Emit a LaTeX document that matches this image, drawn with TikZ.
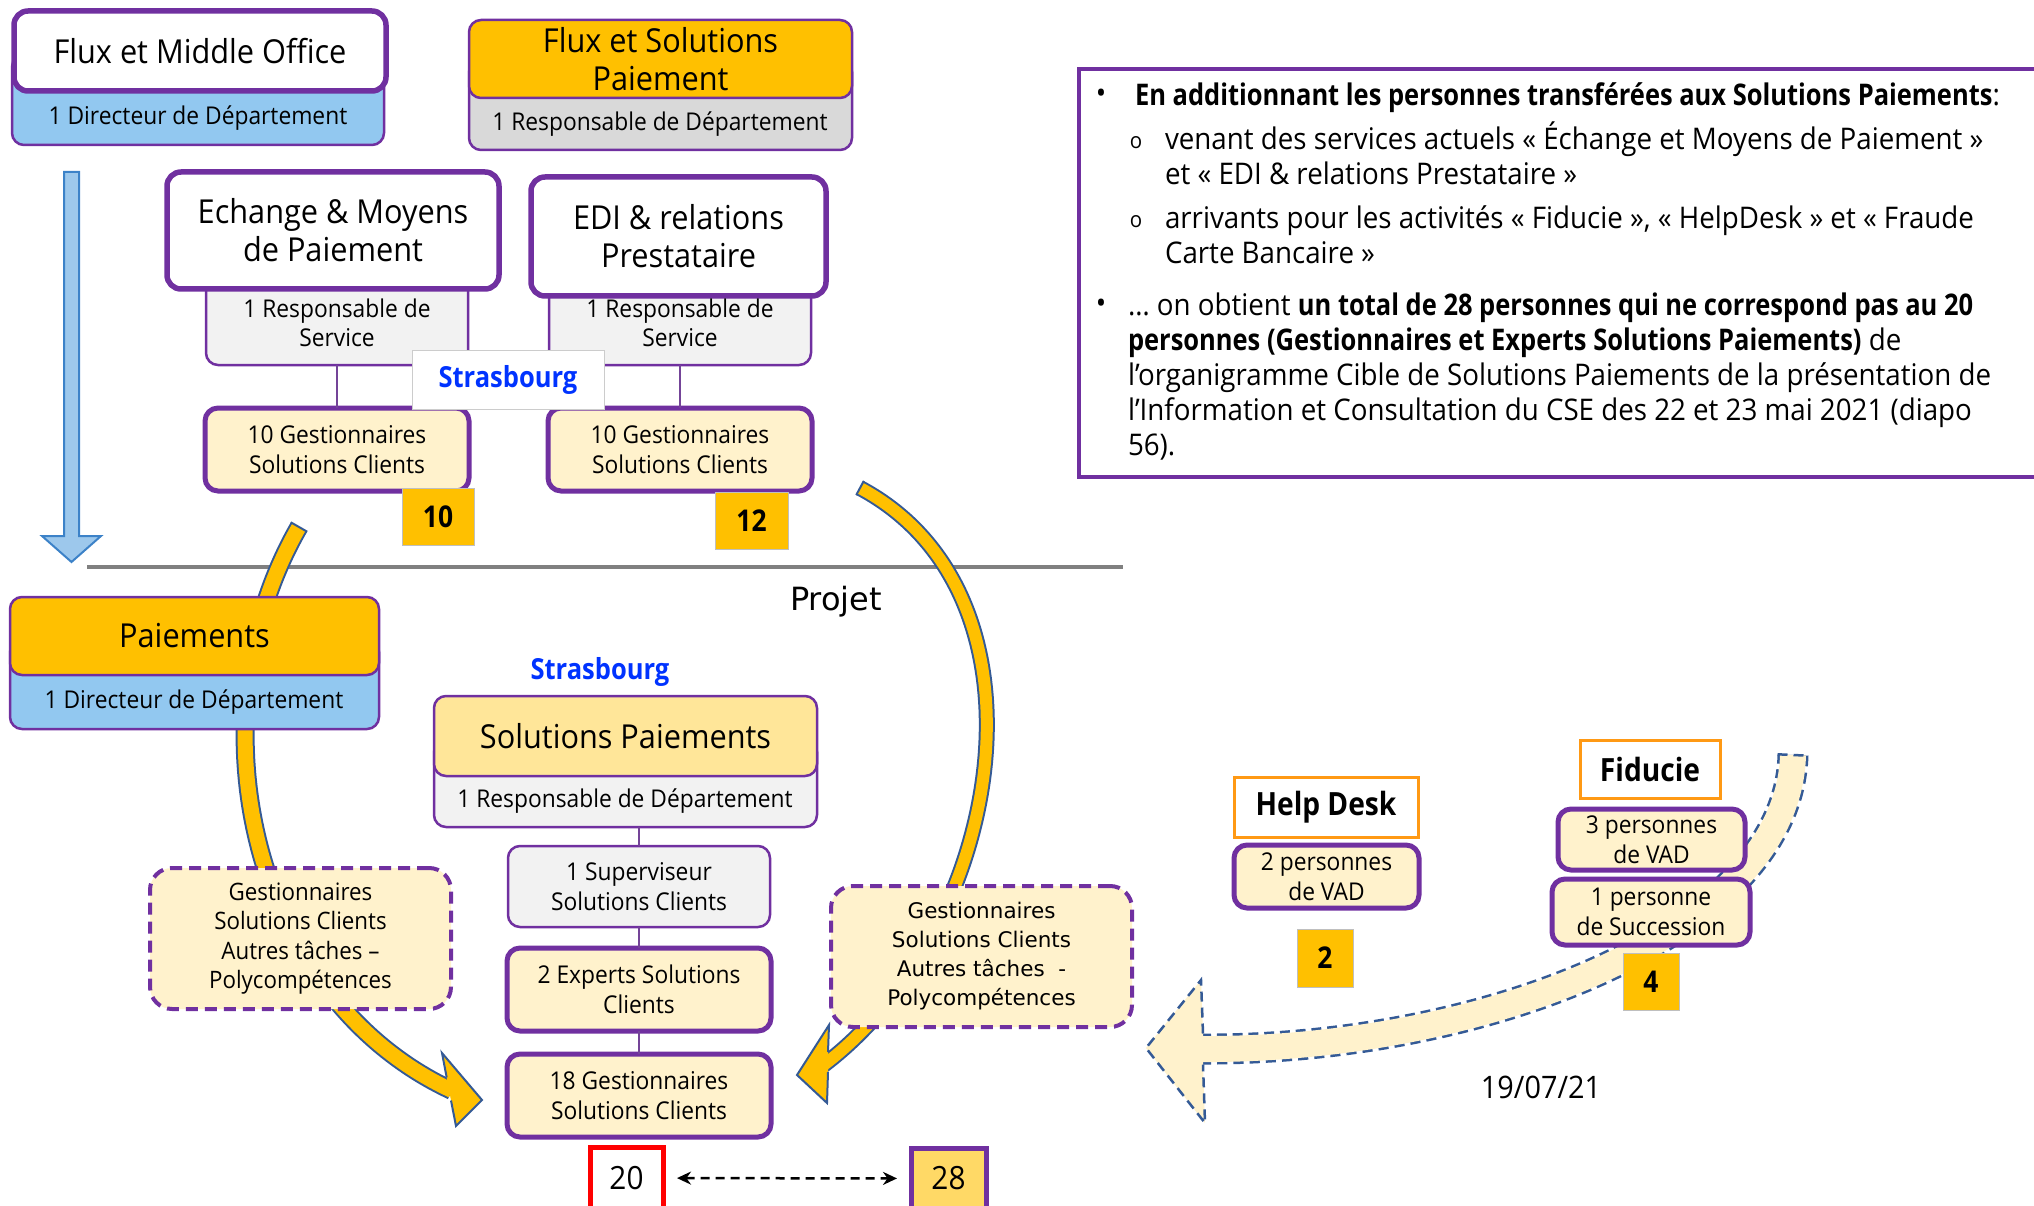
\documentclass[tikz,border=0pt]{standalone}
\usepackage{fontspec}
\setmainfont{Open Sans}[FakeStretch=0.93]
\newfontfamily\semib{Open Sans}[FakeStretch=0.88]
\newfontfamily\notebold{Open Sans}[FakeStretch=0.855]
\newfontfamily\verd{DejaVu Sans}
\usetikzlibrary{arrows.meta}

\definecolor{purp}{RGB}{112,48,160}
\definecolor{gold}{RGB}{255,192,0}
\definecolor{skyb}{RGB}{146,200,240}
\definecolor{greyA}{RGB}{217,217,217}
\definecolor{greyB}{RGB}{242,242,242}
\definecolor{cream}{RGB}{255,242,204}
\definecolor{sand}{RGB}{255,230,153}
\definecolor{sandB}{RGB}{255,217,102}
\definecolor{cityblue}{RGB}{0,51,255}
\definecolor{arrowline}{RGB}{52,90,150}
\definecolor{orangeline}{RGB}{255,153,20}
\definecolor{rulegrey}{RGB}{128,128,128}
\definecolor{arrowblue}{RGB}{157,200,236}
\definecolor{arrowblueline}{RGB}{60,130,200}

\newcommand\ftitle{\fontsize{33}{38}\selectfont}
\newcommand\fbody{\fontsize{24.5}{29.5}\selectfont}
\newcommand\fnote{\fontsize{29.8}{35}\selectfont}
\newcommand\fcity{\semib\bfseries\fontsize{29}{34}\selectfont}

% box from corner (x1,y1) to corner (x2,y2)
\newcommand\bx[7]{\node[#2, minimum width={(#5)-(#3)}, minimum height={(#6)-(#4)}] (#1) at ({((#3)+(#5))/2},{((#4)+(#6))/2}) {#7};}

\tikzset{
  every node/.style={inner sep=0pt, outer sep=0pt},
  lowbox/.style={draw=purp, line width=2.5pt, rounded corners=12pt},
  headbox/.style={draw=purp, line width=5.5pt, rounded corners=14pt, align=center, font=\ftitle},
  thinhead/.style={draw=purp, line width=2.5pt, rounded corners=12pt, align=center, font=\ftitle},
  staffbox/.style={draw=purp, line width=5pt, rounded corners=13pt, fill=cream, align=center, font=\fbody},
  countbox/.style={fill=gold, draw=black!25, line width=1pt, font=\semib\bfseries\fontsize{30}{34}\selectfont},
  unitlabel/.style={draw=orangeline, line width=3pt, fill=white, font=\semib\bfseries\fontsize{32}{36}\selectfont},
  dashbox/.style={draw=purp, line width=4pt, dash pattern=on 12pt off 7pt, rounded corners=22pt, fill=cream, align=center},
  link/.style={draw=purp!75!gray, line width=1.5pt},
  bodytext/.style={align=center, font=\fbody},
  notetext/.style={anchor=base west, font=\fnote},
  bentdash/.style={dash pattern=on 10pt off 6pt},
}

\begin{document}
\begin{tikzpicture}[x=1pt,y=-1pt]
\useasboundingbox (0,0) rectangle (2034,1206);
\clip (0,0) rectangle (2034,1206);

% separator between the current and the target organisation
\draw[rulegrey, line width=4pt] (87,567) -- (1123,567);

% downward arrow on the left
\draw[fill=arrowblue, draw=arrowblueline, line width=2pt, line join=miter]
  (64,172) -- (79,172) -- (79,536) -- (101,536) -- (71.5,562) -- (42,536) -- (64,536) -- cycle;

% curved transfer arrow on the left
\draw[arrowline, line width=19pt] (299,527) .. controls (189,718) and (251,997) .. (452,1090.5);
\draw[gold, line width=15pt] (299,527) .. controls (189,718) and (251,997) .. (452,1090.5);
\draw[arrowline, line width=2pt] (290.8,522.3) -- (307.2,531.7);
\fill[gold] (446.7,1077.5) -- (442,1053) -- (482,1100) -- (456,1126) -- (451,1100.5) -- cycle;
\draw[arrowline, line width=2pt, line join=miter] (446.7,1077.5) -- (442,1053) -- (482,1100) -- (456,1126) -- (451,1100.5);

% curved transfer arrow on the right
\draw[arrowline, line width=16pt] (860,488) .. controls (1062,596) and (1003,932) .. (821,1067);
\draw[gold, line width=12pt] (860,488) .. controls (1062,596) and (1003,932) .. (821,1067);
\draw[arrowline, line width=2pt] (856.2,495.1) -- (863.8,480.9);
\fill[gold] (828,1052) -- (829,1025) -- (797,1075) -- (827,1103) -- (828,1072) -- cycle;
\draw[arrowline, line width=2pt, line join=miter] (828,1052) -- (829,1025) -- (797,1075) -- (827,1103) -- (828,1072);

% incoming activities arrow
\draw[arrowline, line width=31pt, bentdash] (1793,755) .. controls (1788,935) and (1480,1052) .. (1195,1049);
\draw[cream, line width=26pt] (1793,755) .. controls (1788,935) and (1480,1052) .. (1195,1049);
\draw[arrowline, line width=2.5pt, bentdash] (1777.5,754.3) -- (1808.5,755.7);
\fill[cream] (1203,1033.5) -- (1201,980) -- (1146,1048) -- (1205,1123) -- (1203,1064.5) -- cycle;
\draw[arrowline, line width=2.5pt, bentdash, line join=miter] (1203,1033.5) -- (1201,980) -- (1146,1048) -- (1205,1123) -- (1203,1064.5);

% current organisation
\bx{fmolow}{lowbox, fill=skyb}{12}{55}{384}{145}{}
\bx{fmo}{headbox, fill=white}{14}{11}{386}{91}{Flux et Middle Office}
\node[bodytext] (fmodir) at (198,118) {1 Directeur de Département};

\bx{fsplow}{lowbox, fill=greyA}{469}{60}{852}{150}{}
\bx{fsp}{thinhead, fill=gold}{469}{20}{852}{98}{Flux et Solutions\\Paiement}
\node[bodytext] (fspresp) at (660,124) {1 Responsable de Département};

\bx{emplow}{lowbox, fill=greyB}{206}{250}{468}{365}{}
\bx{emp}{headbox, fill=white}{167}{172}{499}{289}{Echange \& Moyens\\de Paiement}
\node[bodytext] (empresp) at (337,323) {1 Responsable de\\Service};

\bx{edilow}{lowbox, fill=greyB}{549}{260}{811}{365}{}
\bx{edi}{headbox, fill=white}{531}{177}{826}{296}{EDI \& relations\\Prestataire}
\node[bodytext] (ediresp) at (680,323) {1 Responsable de\\Service};

\bx{gl}{staffbox}{205}{408}{469}{491}{10 Gestionnaires\\Solutions Clients}
\bx{gr}{staffbox}{548}{408}{812}{491}{10 Gestionnaires\\Solutions Clients}
\draw[link] (emplow.south) -- (gl.north);
\draw[link] (edilow.south) -- (gr.north);

\node[draw=black!20, line width=1pt, fill=white, minimum width=192, minimum height=59, font=\fcity, text=cityblue] (strasA) at (508,380) {Strasbourg};

\bx{nten}{countbox}{402}{488}{474}{545}{10}
\bx{ntwelve}{countbox}{715}{492}{788}{549}{12}

% target organisation
\node[font=\verd\fontsize{32}{38}\selectfont] (projet) at (836,602) {Projet};

\bx{pailow}{lowbox, fill=skyb}{10}{640}{379}{729}{}
\bx{pai}{thinhead, fill=gold}{10}{597}{379}{675}{Paiements}
\node[bodytext] (paidir) at (194,702) {1 Directeur de Département};

\node[font=\fcity, text=cityblue] (strasB) at (600,672) {Strasbourg};

\bx{splow}{lowbox, fill=greyB}{434}{740}{817}{827}{}
\bx{sp}{thinhead, fill=sand}{434}{696}{817}{776}{Solutions Paiements}
\node[bodytext] (spresp) at (625,801) {1 Responsable de Département};

\bx{sup}{lowbox, fill=greyB, align=center, font=\fbody}{508}{846}{770}{927}{1 Superviseur\\Solutions Clients}
\bx{exp}{staffbox}{507}{948}{771}{1031}{2 Experts Solutions\\Clients}
\bx{gtot}{staffbox}{507}{1054}{771}{1137}{18 Gestionnaires\\Solutions Clients}
\draw[link] (sup.north) -- (sup.north |- splow.south);
\draw[link] (sup.south) -- (exp.north);
\draw[link] (exp.south) -- (gtot.north);

\bx{ldash}{dashbox, font=\fontsize{24}{29.5}\selectfont}{150}{868}{451}{1009}{Gestionnaires\\Solutions Clients\\Autres tâches –\\Polycompétences}
\bx{rdash}{dashbox, font=\verd\fontsize{21.5}{29}\selectfont}{831}{886}{1132}{1027}{Gestionnaires\\Solutions Clients\\Autres tâches\ \ -\\Polycompétences}

\bx{ntwenty}{draw=red, line width=5pt, fill=white, font=\fontsize{32}{38}\selectfont}{590}{1147}{663}{1209}{20}
\bx{ntwentyeight}{draw=purp, line width=5pt, fill=sandB, font=\fontsize{32}{38}\selectfont}{911}{1148}{986}{1209}{28}
\draw[black, line width=2.5pt, dash pattern=on 9pt off 6pt, {Stealth[length=14pt,width=13pt]}-{Stealth[length=14pt,width=13pt]}, shorten <=14pt, shorten >=14pt] (ntwenty) -- (ntwentyeight);

% incoming activities
\bx{helpdesk}{unitlabel}{1234}{777}{1418}{837}{Help Desk}
\bx{hdvad}{staffbox}{1234}{845}{1419}{908}{2 personnes\\de VAD}
\bx{ntwo}{countbox}{1297}{929}{1353}{987}{2}

\bx{fiducie}{unitlabel}{1580}{740}{1720}{798}{Fiducie}
\bx{fidvad}{staffbox}{1558}{809}{1745}{870}{3 personnes\\de VAD}
\bx{fidsucc}{staffbox}{1552}{879}{1750}{945}{1 personne\\de Succession}
\bx{nfour}{countbox}{1623}{953}{1679}{1010}{4}

\node[font=\fontsize{31}{36}\selectfont] (date) at (1541,1087) {19/07/21};

% explanatory note
\bx{note}{draw=purp, line width=3.5pt, fill=white}{1079}{69}{2050}{477}{}
\node[font=\fnote] (bA) at (1101,96) {•};
\node[font=\fontsize{22}{26}\selectfont] (sA) at (1136,143) {o};
\node[font=\fontsize{22}{26}\selectfont] (sB) at (1136,222) {o};
\node[font=\fnote] (bB) at (1101,306) {•};
\node[notetext] (lA) at (1135,106) {{\notebold\bfseries En additionnant les personnes transférées aux Solutions Paiements}:};
\node[notetext] (lB) at (1165,150) {venant des services actuels « Échange et Moyens de Paiement »};
\node[notetext] (lC) at (1165,185) {et « EDI \& relations Prestataire »};
\node[notetext] (lD) at (1165,229) {arrivants pour les activités « Fiducie », « HelpDesk » et « Fraude};
\node[notetext] (lE) at (1165,264) {Carte Bancaire »};
\node[notetext] (lF) at (1128,316) {… on obtient {\notebold\bfseries un total de 28 personnes qui ne correspond pas au 20}};
\node[notetext] (lG) at (1128,350) {{\notebold\bfseries personnes (Gestionnaires et Experts Solutions Paiements)} de};
\node[notetext] (lH) at (1128,385) {l’organigramme Cible de Solutions Paiements de la présentation de};
\node[notetext] (lI) at (1128,420) {l’Information et Consultation du CSE des 22 et 23 mai 2021 (diapo};
\node[notetext] (lJ) at (1128,455) {56).};
\end{tikzpicture}
\end{document}
